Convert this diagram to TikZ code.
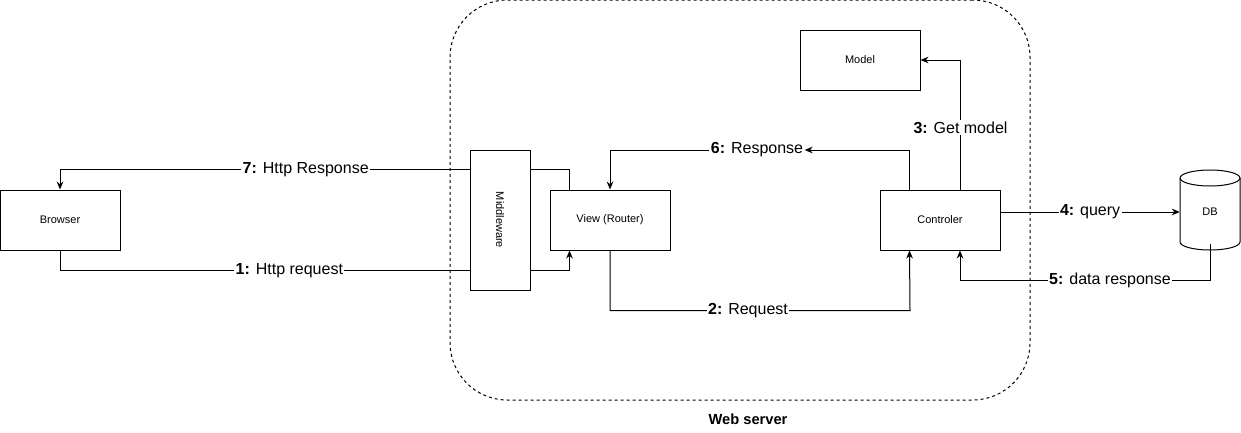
\documentclass[tikz,border=0pt]{standalone}
\usepackage{fontspec}
\setmainfont{Liberation Sans}
\usepackage{tikz}
\usetikzlibrary{arrows.meta}
\usetikzlibrary{positioning}

\tikzset{
  box/.style={draw, line width=0.75pt, fill=white, minimum width=90pt, minimum height=45pt, font=\fontsize{8.25}{10}\selectfont},
  lbl/.style={fill=white, inner sep=1pt, font=\fontsize{12}{14}\selectfont},
  conn/.style={line width=0.75pt},
  >={Stealth[length=6pt,width=5pt]}
}

\begin{document}
\begin{tikzpicture}[x=0.75pt, y=-0.75pt]
\useasboundingbox (0,0) rectangle (1241,432);
% web server frame
\node[draw, dashed, dash pattern=on 2.25pt off 2.25pt, line width=0.75pt, rounded corners=43pt,
  minimum width=435pt, minimum height=300pt] (ws) at (740,200) {};
\node[font=\bfseries\fontsize{11}{13}\selectfont] (wslbl) at (748,419) {Web server};
% boxes
\node[box] at (60,220) (browser) {Browser};
\node[box, minimum width=45pt, minimum height=105pt] at (500,220) (mw) {};
\node[rotate=-90, font=\fontsize{8.25}{10}\selectfont] at (mw.center) (mwtxt) {Middleware};
\node[box] at (610,220) (view) {View (Router)};
\node[box] at (940,220) (ctrl) {Controler};
\node[box] at (860,60) (model) {Model};
% database cylinder
\draw[line width=0.75pt, fill=white] (1180,178) -- (1180,242)
  arc[start angle=180, end angle=360, x radius=22.5pt, y radius=6pt] -- (1240,178)
  arc[start angle=0, end angle=180, x radius=22.5pt, y radius=6pt];
\draw[line width=0.75pt] (1180,178) arc[start angle=180, end angle=360, x radius=22.5pt, y radius=6pt];
\node[minimum width=45pt, minimum height=60pt, inner sep=0pt, font=\fontsize{8.25}{10}\selectfont] at (1210,212) (db) {DB};
\node[lbl] at (757,150) (resp) {\textbf{6:} Response};
\coordinate (dr) at (960,280);
% connectors
\draw[conn, ->] ([yshift=-15pt]mw.north west) -| (browser.north) node[lbl, pos=0.2] {\textbf{7:} Http Response};
\draw[conn] (browser.south) |- ([yshift=15pt]mw.south west) node[lbl, pos=0.78] {\textbf{1:} Http request};
\draw[conn] ([yshift=-15pt]mw.north east) -| ([xshift=15pt]view.north west);
\draw[conn, ->] ([yshift=15pt]mw.south east) -| ([xshift=15pt]view.south west);
\draw[conn, ->] (view.south) |- ++(225pt,-45pt) node[lbl, pos=0.73] {\textbf{2:} Request} -- ([xshift=22.5pt]ctrl.south west);
\draw[conn, ->] ([xshift=22.5pt]ctrl.north west) |- (resp.east);
\draw[conn, ->] (resp.west) -| (view.north);
\draw[conn, ->] ([xshift=-30pt]ctrl.north east) |- (model.east) node[lbl, pos=0.24] {\textbf{3:} Get model};
\draw[conn, ->] (ctrl.east |- db.west) -- (db.west) node[lbl, pos=0.5] {\textbf{4:} query};
\draw[conn, ->] ([yshift=6pt]db.south) |- (dr) node[lbl, pos=0.7] {\textbf{5:} data response} -- (ctrl.south -| dr);
\end{tikzpicture}
\end{document}
